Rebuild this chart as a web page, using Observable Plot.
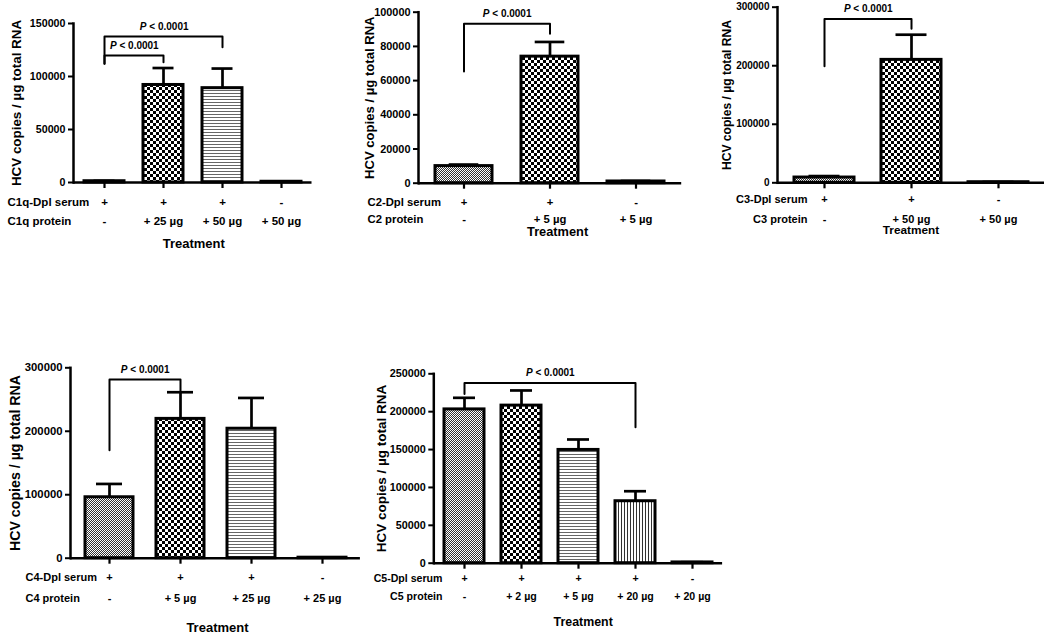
<!DOCTYPE html>
<html><head><meta charset="utf-8">
<script src="https://cdn.jsdelivr.net/npm/d3@7"></script>
<script src="https://cdn.jsdelivr.net/npm/@observablehq/plot@0.6"></script>
<style>
html,body{margin:0;padding:0;background:#fff;}
#root{position:relative;width:1050px;height:639px;overflow:hidden;background:#fff;}
.panel{position:absolute;}
.panel svg{display:block;}
</style></head><body>
<svg width="0" height="0" style="position:absolute;left:0;top:0">
<defs>
<pattern id="pCheck" width="6" height="6" patternUnits="userSpaceOnUse"><rect width="6" height="6" fill="#fff"/><rect width="3" height="3" fill="#000"/><rect x="3" y="3" width="3" height="3" fill="#000"/></pattern>
<pattern id="pFine" width="2" height="2" patternUnits="userSpaceOnUse"><rect width="2" height="2" fill="#fff"/><rect width="1" height="1" fill="#333"/><rect x="1" y="1" width="1" height="1" fill="#333"/></pattern>
<pattern id="pH" width="4" height="3" patternUnits="userSpaceOnUse"><rect width="4" height="3" fill="#fff"/><rect width="4" height="1" fill="#666"/></pattern>
<pattern id="pV" width="3" height="4" patternUnits="userSpaceOnUse"><rect width="3" height="4" fill="#fff"/><rect width="1" height="4" fill="#333"/></pattern>
</defs></svg>
<div id="root"></div>
<script>
// ---------------- DATA ----------------
const yLabel = "HCV copies / µg total RNA";
const xLabel = "Treatment";
const pLabel = "P < 0.0001";

// C1q
const c1qRowLabels = ["C1q-Dpl serum", "C1q protein"];
const c1qSerum = ["+", "+", "+", "-"];
const c1qProtein = ["-", "+ 25 µg", "+ 50 µg", "+ 50 µg"];
const c1qMean = [1200, 92000, 89000, 700];
const c1qSem = [300, 16000, 18500, 200];
const c1qTicks = [0, 50000, 100000, 150000];
const c1qBrackets = [
  {from: 0, to: 2, top: 137700, legFrom: 112000, legTo: 127500},
  {from: 0, to: 1, top: 119800, legFrom: 112000, legTo: 113500}
];

// C2
const c2RowLabels = ["C2-Dpl serum", "C2 protein"];
const c2Serum = ["+", "+", "-"];
const c2Protein = ["-", "+ 5 µg", "+ 5 µg"];
const c2Mean = [10000, 74000, 1000];
const c2Sem = [900, 8600, 300];
const c2Ticks = [0, 20000, 40000, 60000, 80000, 100000];
const c2Brackets = [{from: 0, to: 1, top: 93200, legFrom: 65300, legTo: 87400}];

// C3
const c3RowLabels = ["C3-Dpl serum", "C3 protein"];
const c3Serum = ["+", "+", "-"];
const c3Protein = ["-", "+ 50 µg", "+ 50 µg"];
const c3Mean = [9000, 210000, 1000];
const c3Sem = [2500, 43000, 400];
const c3Ticks = [0, 100000, 200000, 300000];
const c3Brackets = [{from: 0, to: 1, top: 280000, legFrom: 199000, legTo: 263000}];

// C4
const c4RowLabels = ["C4-Dpl serum", "C4 protein"];
const c4Serum = ["+", "+", "+", "-"];
const c4Protein = ["-", "+ 5 µg", "+ 25 µg", "+ 25 µg"];
const c4Mean = [96000, 219500, 204000, 800];
const c4Sem = [21000, 42000, 48500, 300];
const c4Ticks = [0, 100000, 200000, 300000];
const c4Brackets = [{from: 0, to: 1, top: 281500, legFrom: 170000, legTo: 261500}];

// C5
const c5RowLabels = ["C5-Dpl serum", "C5 protein"];
const c5Serum = ["+", "+", "+", "+", "-"];
const c5Protein = ["-", "+ 2 µg", "+ 5 µg", "+ 20 µg", "+ 20 µg"];
const c5Mean = [203000, 208000, 149500, 81800, 1000];
const c5Sem = [15300, 20000, 13800, 13200, 300];
const c5Ticks = [0, 50000, 100000, 150000, 200000, 250000];
const c5Brackets = [{from: 0, to: 3, top: 238000, legFrom: 223500, legTo: 179500}];

// ---------------- STYLE / LAYOUT ----------------
const patternKeys = ["fine", "check", "hlines", "vlines"];
const patternUrls = ["url(#pFine)", "url(#pCheck)", "url(#pH)", "url(#pV)"];

const panels = [
  {rows: c1qRowLabels, serum: c1qSerum, protein: c1qProtein, mean: c1qMean, sem: c1qSem, ticks: c1qTicks, brackets: c1qBrackets,
   pat: ["fine", "check", "hlines", "fine"],
   L: {left: 0, top: 0, width: 340, height: 255, axisX: 73, yTop: 23, yZero: 182, step: 59.7, first: 29.7, bw: 40, cap: 9.5,
       tickFs: 10.7, rowFs: 11.5, labFs: 13.4, trFs: 13, rowDy: [20, 39, 61], rowDx: -66, rowAnchor: "start", labDx: -57, trDx: 1}},
  {rows: c2RowLabels, serum: c2Serum, protein: c2Protein, mean: c2Mean, sem: c2Sem, ticks: c2Ticks, brackets: c2Brackets,
   pat: ["fine", "check", "fine"],
   L: {left: 345, top: 0, width: 340, height: 240, axisX: 418, yTop: 11.7, yZero: 182.7, step: 86.3, first: 45.3, bw: 57.7, cap: 13.7,
       tickFs: 10.9, rowFs: 11.3, labFs: 13.1, trFs: 12.8, rowDy: [19, 36.3, 48.3], rowDx: -51, rowAnchor: "start", labDx: -49, trDx: 7.5}},
  {rows: c3RowLabels, serum: c3Serum, protein: c3Protein, mean: c3Mean, sem: c3Sem, ticks: c3Ticks, brackets: c3Brackets,
   pat: ["fine", "check", "fine"],
   L: {left: 690, top: 0, width: 360, height: 240, axisX: 777, yTop: 6.7, yZero: 182.3, step: 87.5, first: 46, bw: 60, cap: 14.5,
       tickFs: 10, rowFs: 11, labFs: 12.1, trFs: 11.8, rowDy: [16.7, 36.7, 47.7], rowDx: 30, rowAnchor: "end", labDx: -50.5, trDx: 0}},
  {rows: c4RowLabels, serum: c4Serum, protein: c4Protein, mean: c4Mean, sem: c4Sem, ticks: c4Ticks, brackets: c4Brackets,
   pat: ["fine", "check", "hlines", "fine"],
   L: {left: 0, top: 355, width: 370, height: 284, axisX: 70, yTop: 367.3, yZero: 557.7, step: 71.3, first: 38, bw: 48, cap: 11,
       tickFs: 11.3, rowFs: 11, labFs: 14.2, trFs: 13, rowDy: [19.3, 40.3, 69.3], rowDx: -45, rowAnchor: "start", labDx: -55, trDx: 2}},
  {rows: c5RowLabels, serum: c5Serum, protein: c5Protein, mean: c5Mean, sem: c5Sem, ticks: c5Ticks, brackets: c5Brackets,
   pat: ["fine", "check", "hlines", "vlines", "fine"],
   L: {left: 372, top: 355, width: 360, height: 284, axisX: 433.3, yTop: 373.3, yZero: 562.7, step: 57.2, first: 30, bw: 40.5, cap: 9,
       tickFs: 10.8, rowFs: 10.6, labFs: 13.5, trFs: 12.4, rowDy: [15.3, 33.3, 59], rowDx: 8.7, rowAnchor: "end", labDx: -52, trDx: 5}}
];

const FONT = "'Liberation Sans', Arial, Helvetica, sans-serif";
const root = document.getElementById("root");

function italicP(svg) {
  const ns = "http://www.w3.org/2000/svg";
  svg.querySelectorAll("text").forEach(t => {
    if (t.textContent === pLabel && t.children.length === 0) {
      t.textContent = "";
      const a = document.createElementNS(ns, "tspan");
      a.setAttribute("font-style", "italic");
      a.textContent = "P";
      const b = document.createElementNS(ns, "tspan");
      b.textContent = pLabel.slice(1);
      t.appendChild(a); t.appendChild(b);
    }
  });
}

for (const p of panels) {
  const L = p.L;
  const n = p.serum.length;
  const groups = p.serum.map((s, i) => s + " / " + p.protein[i]);
  const data = groups.map((g, i) => ({g, serum: p.serum[i], protein: p.protein[i], mean: p.mean[i], top: p.mean[i] + p.sem[i], pat: p.pat[i]}));
  const pi = 1 - L.bw / L.step;
  const po = L.first / L.step - L.bw / (2 * L.step);
  const W = L.step * (n - pi + 2 * po);
  const marginLeft = L.axisX - L.left;
  const marginTop = L.yTop - L.top;
  const marginBottom = L.top + L.height - L.yZero;
  const marginRight = L.width - marginLeft - W;
  const ymax = p.ticks[p.ticks.length - 1];

  const bracketPts = [];
  const bracketTxt = [];
  p.brackets.forEach((b, k) => {
    bracketPts.push({k, g: groups[b.from], y: b.legFrom});
    bracketPts.push({k, g: groups[b.from], y: b.top});
    bracketPts.push({k, g: groups[b.to], y: b.top});
    bracketPts.push({k, g: groups[b.to], y: b.legTo});
    bracketTxt.push({g: groups[b.from], y: b.top, dx: (b.to - b.from) * L.step / 2});
  });

  const txt = {fontFamily: FONT, fontWeight: "bold", fill: "#000"};
  const svg = Plot.plot({
    width: L.width, height: L.height,
    marginLeft, marginRight, marginTop, marginBottom,
    style: {fontFamily: FONT, background: "transparent", overflow: "visible", color: "#000"},
    x: {domain: groups, paddingInner: pi, paddingOuter: po, align: 0.5},
    y: {domain: [0, ymax]},
    color: {type: "ordinal", domain: patternKeys, range: patternUrls},
    marks: [
      Plot.ruleX(data, {x: "g", y1: "mean", y2: "top", stroke: "#000", strokeWidth: 2.7}),
      Plot.tickY(data, {x: "g", y: "top", stroke: "#000", strokeWidth: 2.7, insetLeft: L.cap, insetRight: L.cap}),
      Plot.barY(data, {x: "g", y: "mean", fill: "pat", stroke: "#000", strokeWidth: 3}),
      Plot.frame({anchor: "left", stroke: "#000", strokeWidth: 2.5}),
      Plot.ruleY([0], {stroke: "#000", strokeWidth: 2.5}),
      Plot.axisY({ticks: p.ticks, tickSize: 5, tickPadding: 3, tickFormat: d3.format("d"), label: null,
                  strokeWidth: 2, fontSize: L.tickFs, fontWeight: "bold", fontFamily: FONT, fill: "#000"}),
      Plot.axisX({tickSize: 6, tickFormat: () => "", label: null, strokeWidth: 2.2}),
      Plot.text(data, {x: "g", y: () => 0, text: "serum", dy: L.rowDy[0], lineAnchor: "middle", fontSize: L.rowFs, ...txt}),
      Plot.text(data, {x: "g", y: () => 0, text: "protein", dy: L.rowDy[1], lineAnchor: "middle", fontSize: L.rowFs, ...txt}),
      Plot.text([p.rows[0]], {frameAnchor: "bottom-left", text: d => d, dx: L.rowDx, dy: L.rowDy[0], textAnchor: L.rowAnchor, lineAnchor: "middle", fontSize: L.rowFs, ...txt}),
      Plot.text([p.rows[1]], {frameAnchor: "bottom-left", text: d => d, dx: L.rowDx, dy: L.rowDy[1], textAnchor: L.rowAnchor, lineAnchor: "middle", fontSize: L.rowFs, ...txt}),
      Plot.text([xLabel], {frameAnchor: "bottom", text: d => d, dx: L.trDx, dy: L.rowDy[2], textAnchor: "middle", lineAnchor: "middle", fontSize: L.trFs, ...txt}),
      Plot.text([yLabel], {frameAnchor: "left", text: d => d, rotate: -90, dx: L.labDx, textAnchor: "middle", lineAnchor: "middle", fontSize: L.labFs, ...txt}),
      Plot.line(bracketPts, {x: "g", y: "y", z: "k", stroke: "#000", strokeWidth: 2}),
      ...bracketTxt.map(b => Plot.text([b], {x: "g", y: "y", text: () => pLabel, dx: b.dx, dy: -10, textAnchor: "middle", lineAnchor: "middle", fontSize: 10, ...txt}))
    ]
  });
  italicP(svg);
  const div = document.createElement("div");
  div.className = "panel";
  div.style.left = L.left + "px";
  div.style.top = L.top + "px";
  div.appendChild(svg);
  root.appendChild(div);
}
</script>
</body></html>
